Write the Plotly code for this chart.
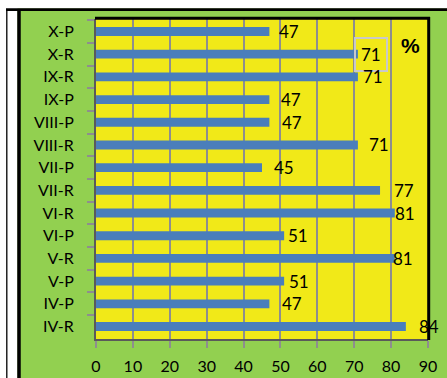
import plotly.graph_objects as go

# Categories listed top to bottom, with the percentage for each
categories = ["X-P", "X-R", "IX-R", "IX-P", "VIII-P", "VIII-R", "VII-P",
              "VII-R", "VI-R", "VI-P", "V-R", "V-P", "IV-P", "IV-R"]
values = [47, 71, 71, 47, 47, 71, 45, 77, 81, 51, 81, 51, 47, 84]
x_ticks = [0, 10, 20, 30, 40, 50, 60, 70, 80, 90]

# Horizontal pixel offsets of each value label from its bar end
label_shift = [8, -4, 3, 10, 11, 9, 10, 12, -2, 2, -4, 3, 11, 11]
boxed_label = 1  # index of the label drawn inside a light frame

W, H = 447, 378
M_L, M_R, M_T, M_B = 96, 19, 19, 39
PW, PH = W - M_L - M_R, H - M_T - M_B

GREEN = "#92D050"
YELLOW = "#F1E918"
BLUE = "#4A7EBB"
FONT = "Lato, Calibri, sans-serif"


def px_x(p):
    return (p - M_L) / PW


def px_y(p):
    return (H - M_B - p) / PH


fig = go.Figure()
fig.add_trace(go.Bar(
    x=values, y=categories, orientation="h",
    marker=dict(color=BLUE, line=dict(width=0)),
    width=0.39, hoverinfo="x+y",
))

annotations = []
for i, (c, v) in enumerate(zip(categories, values)):
    a = dict(x=v, y=c, xref="x", yref="y", text=str(v), showarrow=False,
             xanchor="left", yanchor="middle", xshift=label_shift[i],
             font=dict(family=FONT, size=17, color="black"))
    if i == boxed_label:
        a.update(bordercolor="#C9C9C9", borderwidth=2, borderpad=5)
    annotations.append(a)

annotations.append(dict(
    x=px_x(410), y=px_y(45), xref="paper", yref="paper", text="<b>%</b>",
    showarrow=False, xanchor="center", yanchor="middle",
    font=dict(family="Liberation Sans, Arial, sans-serif", size=21, color="black"),
))

shapes = [
    # white margin strips around the green chart area
    dict(type="rect", xref="paper", yref="paper", x0=px_x(0), x1=px_x(17.5),
         y0=px_y(0), y1=px_y(H), fillcolor="white", line=dict(width=0), layer="below"),
    dict(type="rect", xref="paper", yref="paper", x0=px_x(0), x1=px_x(W),
         y0=px_y(0), y1=px_y(8.5), fillcolor="white", line=dict(width=0), layer="below"),
    # outer frame lines
    dict(type="line", xref="paper", yref="paper", x0=px_x(6), x1=px_x(W),
         y0=px_y(9.7), y1=px_y(9.7), line=dict(color="black", width=2.7)),
    dict(type="line", xref="paper", yref="paper", x0=px_x(6.8), x1=px_x(6.8),
         y0=px_y(9), y1=px_y(H), line=dict(color="black", width=1.3)),
    dict(type="line", xref="paper", yref="paper", x0=px_x(19), x1=px_x(19),
         y0=px_y(9), y1=px_y(H), line=dict(color="black", width=3.5)),
    # heavy top and right edges of the plot area
    dict(type="line", xref="paper", yref="paper", x0=px_x(95), x1=px_x(430),
         y0=px_y(18.3), y1=px_y(18.3), line=dict(color="black", width=3)),
    dict(type="line", xref="paper", yref="paper", x0=px_x(428.7), x1=px_x(428.7),
         y0=px_y(17), y1=px_y(340), line=dict(color="black", width=3)),
]

fig.update_layout(
    width=W, height=H,
    margin=dict(l=M_L, r=M_R, t=M_T, b=M_B, pad=0, autoexpand=False),
    paper_bgcolor=GREEN, plot_bgcolor=YELLOW,
    showlegend=False, bargap=0.61,
    font=dict(family=FONT, size=16, color="black"),
    annotations=annotations, shapes=shapes,
    xaxis=dict(
        range=[0, 90], tickvals=x_ticks, ticktext=[str(t) for t in x_ticks],
        showgrid=True, gridcolor="#8E8E8E", gridwidth=1.6, zeroline=False,
        showline=True, linecolor="#5A5A5A", linewidth=2,
        ticks="outside", ticklen=7, tickwidth=1.5, tickcolor="#8E8E8E",
        ticklabelstandoff=5, automargin=False,
        tickfont=dict(family=FONT, size=16, color="black"),
        fixedrange=True,
    ),
    yaxis=dict(
        categoryorder="array", categoryarray=categories, autorange="reversed",
        showgrid=False, zeroline=False,
        showline=True, linecolor="#5A5A5A", linewidth=2,
        ticks="outside", ticklen=7, tickwidth=1.5, tickcolor="#8E8E8E",
        tickson="boundaries", ticklabelstandoff=17, automargin=False,
        tickfont=dict(family=FONT, size=16, color="black"),
        fixedrange=True,
    ),
)

fig.write_html("out.html", config={"displayModeBar": False})
